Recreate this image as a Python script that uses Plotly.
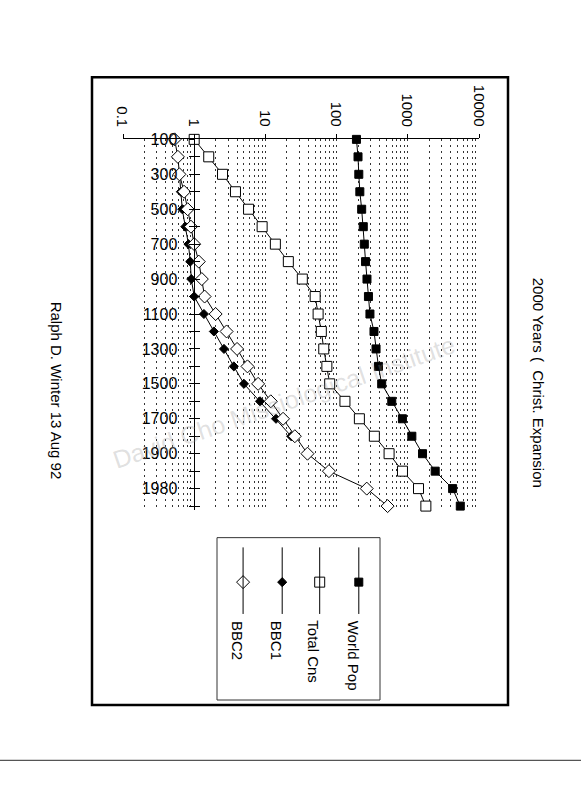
import math
import plotly.graph_objects as go

W, H = 581, 800

# years on the vertical axis (categories)
years = [100, 200, 300, 400, 500, 600, 700, 800, 900, 1000, 1100, 1200, 1300,
         1400, 1500, 1600, 1700, 1800, 1900, 1950, 1980, 2000]
year_labels = ["100", "300", "500", "700", "900", "1100", "1300", "1500",
               "1700", "1900", "1980"]

# values (millions)
world_pop = [190, 200, 205, 212, 225, 237, 245, 255, 267, 280, 294, 335, 358,
             387, 430, 595, 840, 1140, 1610, 2425, 4260, 5460]
total_cns = [1.0, 1.6, 2.5, 3.8, 5.8, 9, 13.8, 21, 33, 50, 55, 61, 66, 73, 80,
             131, 209, 339, 546, 842, 1414, 1794]
bbc1 = [None, None, 0.62, 0.65, 0.68, 0.75, 0.83, 0.88, 0.91, 1.0, 1.37, 1.89,
        2.62, 3.6, 5.0, 8.4, 14.1, 23, None, None, None, None]
bbc2 = [0.53, 0.59, 0.62, 0.72, 0.81, 0.90, 1.0, 1.16, 1.28, 1.40, 2.0, 2.85,
        4.0, 5.6, 7.9, 11.9, 17.7, 25.9, 39, 78, 265, 520]

value_ticks = [0.1, 1, 10, 100, 1000, 10000]
value_text = ["0.1", "1", "10", "100", "1000", "10000"]

series = [
    ("World Pop", world_pop, dict(symbol="square", size=8, color="black",
                                   line=dict(color="black", width=1))),
    ("Total Cns", total_cns, dict(symbol="square", size=10, color="white",
                                   line=dict(color="black", width=1))),
    ("BBC1", bbc1, dict(symbol="diamond", size=7, color="black",
                         line=dict(color="black", width=1))),
    ("BBC2", bbc2, dict(symbol="diamond", size=10, color="white",
                         line=dict(color="black", width=1))),
]


def px(x):
    return x / W


def py(y):
    return 1 - y / H


ycats = [str(y) for y in years]
yticktext = [str(y) if str(y) in year_labels else "" for y in years]
minor_vals = [m * 10 ** e for e in range(-1, 4) for m in range(2, 10)]

fig = go.Figure()
for name, vals, mk in series:
    fig.add_trace(go.Scatter(x=vals, y=ycats, mode="lines+markers", name=name,
                             line=dict(color="black", width=1), marker=mk,
                             cliponaxis=False, showlegend=False,
                             connectgaps=False))

# dummy trace so the crossing-tick axis gets drawn
fig.add_trace(go.Scatter(x=[None], y=[ycats[0]], yaxis="y3", showlegend=False,
                         hoverinfo="skip"))

# legend samples drawn in their own small axes
leg_x = [0.87, 0.63, 0.40, 0.16]
for (name, vals, mk), lx in zip(series, leg_x):
    fig.add_trace(go.Scatter(x=[lx], y=[0.726], mode="markers", marker=mk,
                             xaxis="x2", yaxis="y2", showlegend=False,
                             cliponaxis=False, hoverinfo="skip"))

grid = dict(showgrid=True, gridcolor="#333", gridwidth=1, griddash="2px,4px")
fig.update_layout(
    width=W, height=H, margin=dict(l=0, r=0, t=0, b=0),
    paper_bgcolor="white", plot_bgcolor="white",
    font=dict(family="Liberation Sans, Arial, sans-serif", color="black", size=15),
    xaxis=dict(type="log", range=[-1, 4], domain=[px(123), px(479)],
               side="top", anchor="y", tickvals=value_ticks,
               showticklabels=False, ticks="outside", ticklen=4,
               tickcolor="black", showline=True, linecolor="black",
               linewidth=1, zeroline=False,
               minor=dict(tickvals=minor_vals, ticks="", **grid), **grid),
    yaxis=dict(type="category", categoryarray=ycats, range=[21.22, 0],
               domain=[py(507), py(132.7)], anchor="free", position=px(193.5),
               tickvals=ycats, ticktext=yticktext, ticks="outside", ticklen=5,
               tickcolor="black", showline=True, linecolor="black",
               linewidth=1, showgrid=False, zeroline=False,
               ticklabelstandoff=8, tickfont=dict(size=16)),
    yaxis3=dict(type="category", categoryarray=ycats, range=[21.22, 0],
                overlaying="y", anchor="free", position=px(193.5),
                tickvals=ycats, ticks="inside", ticklen=5, tickcolor="black",
                showticklabels=False, showline=False, showgrid=False,
                zeroline=False),
    xaxis2=dict(domain=[px(217), px(380)], range=[0, 1], anchor="y2",
                visible=False, fixedrange=True),
    yaxis2=dict(domain=[py(699), py(535)], range=[0, 1], anchor="x2",
                visible=False, fixedrange=True),
)

# rotated value labels above the top axis
for v, t in zip(value_ticks, value_text):
    fig.add_annotation(xref="x", yref="paper", x=math.log10(v), y=py(121),
                       text=t, textangle=90, showarrow=False,
                       xanchor="center", yanchor="bottom",
                       font=dict(size=15), borderpad=0)

# outer frame and legend box
fig.add_shape(type="rect", xref="paper", yref="paper", x0=px(92), x1=px(508),
              y0=py(704), y1=py(70), line=dict(color="black", width=2.5))
fig.add_shape(type="rect", xref="paper", yref="paper", x0=px(217), x1=px(380),
              y0=py(699), y1=py(535), line=dict(color="#333", width=1))
for (name, vals, mk), lx in zip(series, leg_x):
    fig.add_shape(type="line", xref="x2", yref="y2", x0=lx, x1=lx,
                  y0=0.53, y1=0.94, line=dict(color="black", width=1))
    fig.add_annotation(xref="x2", yref="y2", x=lx - 0.035, y=0.5, text=name,
                       textangle=90, showarrow=False, xanchor="center",
                       yanchor="top", font=dict(size=15))

# scan artefact line near the bottom of the page
fig.add_shape(type="line", xref="paper", yref="paper", x0=0, x1=1,
              y0=py(760), y1=py(760), line=dict(color="#555", width=1.2))

fig.add_annotation(xref="paper", yref="paper", x=px(549), y=py(378),
                   text="2000 Years (  Christ. Expansion", textangle=90,
                   showarrow=False, font=dict(size=15))
fig.add_annotation(xref="paper", yref="paper", x=px(46), y=py(386),
                   text="Ralph D. Winter 13 Aug 92", textangle=90,
                   showarrow=False, font=dict(size=15))
# faint watermark
fig.add_annotation(xref="paper", yref="paper", x=px(284), y=py(398),
                   text="David Cho Missiological Institute", textangle=-19,
                   showarrow=False, font=dict(size=25, color="rgba(150,150,150,0.3)"))

fig.write_html("out.html", config={"displayModeBar": False},
               post_script="document.body.style.margin='0';")
